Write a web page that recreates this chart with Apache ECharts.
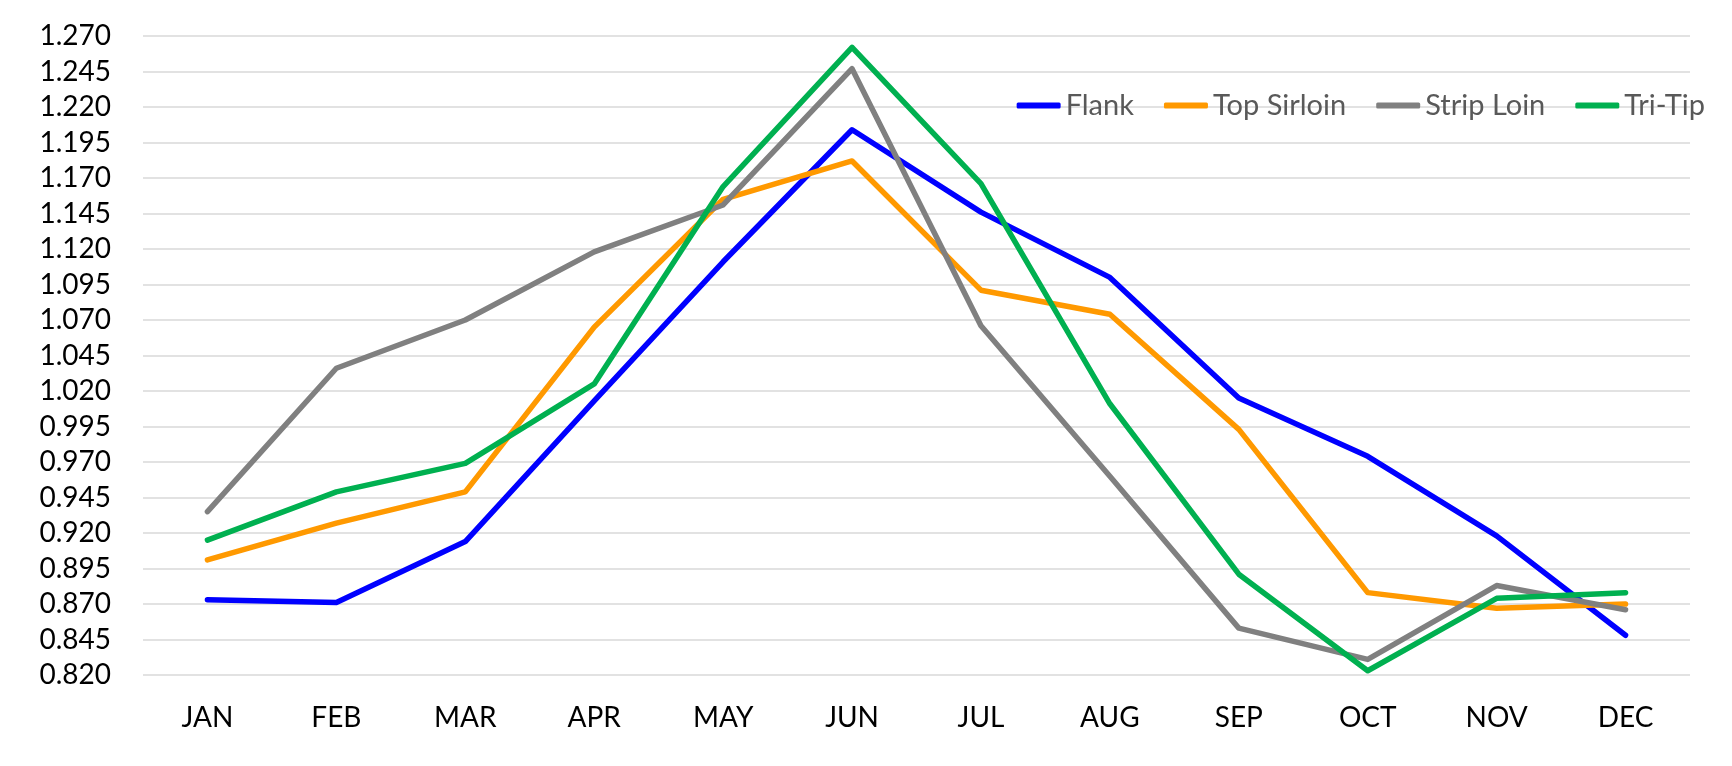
<!DOCTYPE html>
<html>
<head>
<meta charset="utf-8">
<style>
  html, body { margin: 0; padding: 0; background: #fff; }
  #chart { width: 1732px; height: 766px; }
</style>
<script src="https://cdn.jsdelivr.net/npm/echarts@6/dist/echarts.min.js"></script>
</head>
<body>
<div id="chart"></div>
<script>
var months = ['JAN', 'FEB', 'MAR', 'APR', 'MAY', 'JUN', 'JUL', 'AUG', 'SEP', 'OCT', 'NOV', 'DEC'];

var flank      = [0.873, 0.871, 0.914, 1.013, 1.111, 1.204, 1.146, 1.100, 1.015, 0.974, 0.918, 0.848];
var topSirloin = [0.901, 0.927, 0.949, 1.065, 1.155, 1.182, 1.091, 1.074, 0.993, 0.878, 0.867, 0.870];
var stripLoin  = [0.935, 1.036, 1.070, 1.118, 1.151, 1.247, 1.066, 0.960, 0.853, 0.831, 0.883, 0.866];
var triTip     = [0.915, 0.949, 0.969, 1.025, 1.164, 1.262, 1.166, 1.011, 0.891, 0.823, 0.874, 0.878];

var yMin = 0.82, yMax = 1.27, yStep = 0.025;

var chart = echarts.init(document.getElementById('chart'));

function line(name, data, color) {
    return {
        name: name,
        type: 'line',
        data: data,
        symbol: 'none',
        lineStyle: { width: 5.5, color: color, cap: 'round', join: 'round' },
        itemStyle: { color: color }
    };
}

chart.setOption({
    animation: false,
    textStyle: { fontFamily: 'Lato' },
    grid: { left: 143, right: 42, top: 36, bottom: 91 },
    legend: {
        right: 22,
        top: 86,
        icon: 'roundRect',
        itemWidth: 44,
        itemHeight: 6,
        itemGap: 30,
        textStyle: { fontSize: 29, color: '#595959', fontFamily: 'Lato' }
    },
    xAxis: {
        type: 'category',
        data: months,
        boundaryGap: true,
        axisLine: { show: false },
        axisTick: { show: false },
        axisLabel: { fontSize: 28, color: '#000', margin: 29 }
    },
    yAxis: {
        type: 'value',
        min: yMin,
        max: yMax,
        interval: yStep,
        axisLine: { show: false },
        axisTick: { show: false },
        splitLine: { lineStyle: { color: '#D9D9D9', width: 1.5 } },
        axisLabel: {
            fontSize: 28,
            color: '#000',
            margin: 32,
            formatter: function (v) { return v.toFixed(3); }
        }
    },
    series: [
        line('Flank', flank, '#0000FF'),
        line('Top Sirloin', topSirloin, '#FF9900'),
        line('Strip Loin', stripLoin, '#808080'),
        line('Tri-Tip', triTip, '#00B050')
    ]
});
</script>
</body>
</html>
